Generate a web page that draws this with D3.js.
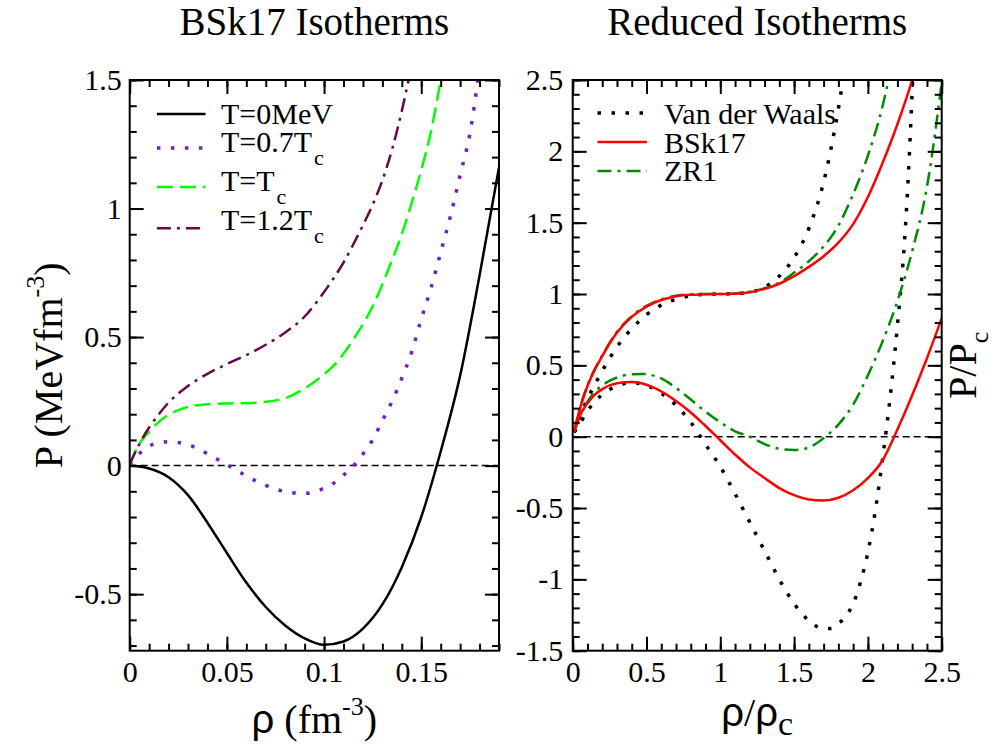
<!DOCTYPE html>
<html><head><meta charset="utf-8">
<script src="https://cdn.jsdelivr.net/npm/d3@7"></script>
<style>
html,body{margin:0;padding:0;background:#fff;}
svg text{font-family:"Liberation Serif","Times New Roman",serif;fill:#000;}
</style></head>
<body><svg id="chart" width="997" height="750"></svg>
<script>
// ---------- DATA ----------
// Left panel: BSk17 isotherms, P (MeV fm^-3) vs rho (fm^-3)
const rhoT0   = [0,0.01,0.02,0.03,0.04,0.05,0.06,0.07,0.08,0.09,0.1,0.11,0.12,0.13,0.14,0.15,0.16,0.17,0.18,0.19];
const pT0     = [0,-0.011,-0.045,-0.115,-0.222,-0.34,-0.455,-0.55,-0.622,-0.672,-0.697,-0.684,-0.634,-0.54,-0.395,-0.2,0.055,0.35,0.74,1.16];

const rho07   = [0,0.005,0.01,0.015,0.02,0.025,0.03,0.035,0.04,0.045,0.05,0.06,0.07,0.08,0.09,0.1,0.105,0.11,0.115,0.12,0.125,0.13,0.135,0.14,0.145,0.15,0.155,0.16,0.165,0.17,0.175,0.18];
const p07     = [0.005,0.047,0.076,0.089,0.093,0.09,0.082,0.066,0.046,0.025,0.004,-0.04,-0.077,-0.101,-0.108,-0.088,-0.068,-0.037,-0.002,0.045,0.1,0.175,0.25,0.34,0.44,0.57,0.69,0.83,0.97,1.13,1.29,1.55];

const rhoTc   = [0,0.005,0.01,0.015,0.02,0.025,0.03,0.04,0.05,0.06,0.07,0.08,0.09,0.1,0.105,0.11,0.115,0.12,0.125,0.13,0.135,0.14,0.145,0.15,0.155,0.16];
const pTc     = [0.005,0.085,0.132,0.17,0.198,0.216,0.228,0.239,0.242,0.243,0.248,0.262,0.3,0.355,0.39,0.435,0.49,0.55,0.62,0.705,0.8,0.9,1.02,1.15,1.3,1.5];

const rho12   = [0,0.005,0.01,0.015,0.02,0.025,0.03,0.035,0.04,0.05,0.06,0.07,0.08,0.09,0.1,0.105,0.11,0.115,0.12,0.125,0.13,0.135,0.14,0.1435];
const p12     = [0.005,0.085,0.148,0.2,0.245,0.28,0.31,0.335,0.357,0.395,0.43,0.47,0.518,0.58,0.675,0.73,0.79,0.86,0.935,1.015,1.11,1.23,1.38,1.5];

// Right panel: reduced isotherms, P/Pc vs rho/rhoc
const rVdWc   = [0.01,0.05,0.1,0.15,0.2,0.3,0.4,0.5,0.6,0.7,0.8,0.9,1.0,1.1,1.2,1.3,1.4,1.5,1.6,1.7,1.8,1.84];
const pVdWc   = [0.03,0.145,0.265,0.365,0.46,0.63,0.757,0.855,0.922,0.963,0.988,0.998,1.0,1.003,1.012,1.048,1.126,1.255,1.46,1.785,2.3,2.56];
const rVdWs   = [0.01,0.05,0.1,0.15,0.2,0.3,0.4,0.5,0.6,0.7,0.8,0.9,1.0,1.1,1.2,1.3,1.4,1.5,1.6,1.7,1.75,1.8,1.85,1.9,1.95,2.0,2.05,2.1,2.15,2.2,2.25,2.275,2.3,2.32];
const pVdWs   = [0.03,0.095,0.18,0.245,0.295,0.355,0.378,0.36,0.305,0.22,0.1,-0.055,-0.21,-0.4,-0.6,-0.8,-1.0,-1.17,-1.29,-1.345,-1.345,-1.31,-1.26,-1.17,-1.02,-0.81,-0.52,-0.15,0.27,0.78,1.4,1.85,2.42,2.9];

const rBSkc   = [0.01,0.05,0.1,0.15,0.2,0.3,0.4,0.5,0.6,0.7,0.8,0.9,1.0,1.1,1.2,1.3,1.4,1.5,1.6,1.7,1.8,1.9,2.0,2.1,2.2,2.3,2.35];
const pBSkc   = [0.04,0.2,0.355,0.47,0.565,0.73,0.84,0.912,0.958,0.985,0.995,0.998,1.0,1.002,1.012,1.036,1.072,1.125,1.19,1.265,1.36,1.49,1.68,1.92,2.19,2.5,2.68];
const rBSks   = [0.01,0.05,0.1,0.15,0.2,0.3,0.4,0.5,0.6,0.7,0.8,0.9,1.0,1.1,1.2,1.3,1.4,1.5,1.6,1.7,1.8,1.9,2.0,2.1,2.2,2.3,2.4,2.5];
const pBSks   = [0.035,0.15,0.235,0.295,0.333,0.374,0.383,0.364,0.318,0.25,0.17,0.075,-0.025,-0.125,-0.215,-0.29,-0.36,-0.41,-0.44,-0.448,-0.428,-0.375,-0.29,-0.165,0.05,0.29,0.55,0.83];

const rZRc    = [0.01,0.05,0.1,0.15,0.2,0.3,0.4,0.5,0.6,0.7,0.8,0.9,1.0,1.1,1.2,1.3,1.4,1.5,1.6,1.68,1.8,1.9,2.0,2.1,2.14];
const pZRc    = [0.04,0.205,0.36,0.475,0.57,0.735,0.845,0.917,0.962,0.988,0.997,1.0,1.0,1.004,1.016,1.04,1.08,1.15,1.23,1.31,1.48,1.7,1.97,2.32,2.5];
const rZRs    = [0.01,0.05,0.1,0.15,0.2,0.3,0.4,0.47,0.5,0.6,0.7,0.8,0.9,1.0,1.1,1.2,1.3,1.4,1.5,1.6,1.7,1.8,1.9,2.0,2.1,2.2,2.3,2.4,2.5];
const pZRs    = [0.035,0.15,0.245,0.315,0.36,0.415,0.437,0.44,0.438,0.408,0.342,0.26,0.175,0.1,0.038,0.0,-0.052,-0.085,-0.093,-0.075,-0.01,0.085,0.225,0.43,0.67,0.95,1.3,1.75,2.48];

// Axis ticks
const xMajL = [0,0.05,0.1,0.15], xLabL = ["0","0.05","0.1","0.15"];
const yMajL = [-0.5,0,0.5,1,1.5], yLabL = ["-0.5","0","0.5","1","1.5"];
const xMajR = [0,0.5,1,1.5,2,2.5], xLabR = ["0","0.5","1","1.5","2","2.5"];
const yMajR = [-1.5,-1,-0.5,0,0.5,1,1.5,2,2.5], yLabR = ["-1.5","-1","-0.5","0","0.5","1","1.5","2","2.5"];

// ---------- DRAW ----------
const svg = d3.select("#chart");
const PL = {x0:129.7, x1:499, y0:80, y1:650.7};
const PR = {x0:572.7, x1:941.7, y0:80, y1:650.7};
const xL = d3.scaleLinear([0,0.19],[PL.x0,PL.x1]);
const yL = d3.scaleLinear([-0.72,1.5],[PL.y1,PL.y0]);
const xR = d3.scaleLinear([0,2.5],[PR.x0,PR.x1]);
const yR = d3.scaleLinear([-1.5,2.5],[PR.y1,PR.y0]);

function range(a,b,s){const out=[];for(let v=a;v<=b+1e-9;v+=s)out.push(+v.toFixed(4));return out;}

function drawAxes(P,x,y,xMaj,xLab,xMin,yMaj,yLab,yMin,yPad){
  const g = svg.append("g");
  const fmt = (arr,lab)=> (d)=>{const i=arr.findIndex(v=>Math.abs(v-d)<1e-9);return i>=0?lab[i]:"";};
  const style = sel=>{sel.select(".domain").remove();sel.selectAll("line").attr("stroke","#000").attr("stroke-width",2);
    sel.selectAll("text").attr("font-size",30).attr("fill","#000").attr("font-family",'"Liberation Serif","Times New Roman",serif');};
  g.append("g").attr("transform",`translate(0,${P.y1})`).call(d3.axisBottom(x).tickValues(xMin).tickSize(-7).tickFormat("")).call(style);
  g.append("g").attr("transform",`translate(0,${P.y1})`).call(d3.axisBottom(x).tickValues(xMaj).tickSize(-14).tickPadding(10).tickFormat(fmt(xMaj,xLab))).call(style);
  g.append("g").attr("transform",`translate(0,${P.y0})`).call(d3.axisTop(x).tickValues(xMin).tickSize(-7).tickFormat("")).call(style);
  g.append("g").attr("transform",`translate(0,${P.y0})`).call(d3.axisTop(x).tickValues(xMaj).tickSize(-14).tickFormat("")).call(style);
  g.append("g").attr("transform",`translate(${P.x0},0)`).call(d3.axisLeft(y).tickValues(yMin).tickSize(-7).tickFormat("")).call(style);
  g.append("g").attr("transform",`translate(${P.x0},0)`).call(d3.axisLeft(y).tickValues(yMaj).tickSize(-14).tickPadding(yPad).tickFormat(fmt(yMaj,yLab))).call(style);
  g.append("g").attr("transform",`translate(${P.x1},0)`).call(d3.axisRight(y).tickValues(yMin).tickSize(-7).tickFormat("")).call(style);
  g.append("g").attr("transform",`translate(${P.x1},0)`).call(d3.axisRight(y).tickValues(yMaj).tickSize(-14).tickFormat("")).call(style);
  g.append("rect").attr("x",P.x0).attr("y",P.y0).attr("width",P.x1-P.x0).attr("height",P.y1-P.y0)
    .attr("fill","none").attr("stroke","#000").attr("stroke-width",2);
}

const defs = svg.append("defs");
defs.append("clipPath").attr("id","clipL").append("rect").attr("x",PL.x0).attr("y",PL.y0).attr("width",PL.x1-PL.x0).attr("height",PL.y1-PL.y0);
defs.append("clipPath").attr("id","clipR").append("rect").attr("x",PR.x0).attr("y",PR.y0).attr("width",PR.x1-PR.x0).attr("height",PR.y1-PR.y0);

function curve(clip,x,y,xs,ys,color,width,dash){
  const pts = xs.map((v,i)=>[v,ys[i]]);
  const line = d3.line().x(d=>x(d[0])).y(d=>y(d[1])).curve(d3.curveMonotoneX);
  svg.append("path").attr("clip-path",`url(#${clip})`).attr("d",line(pts))
    .attr("fill","none").attr("stroke",color).attr("stroke-width",width)
    .attr("stroke-dasharray",dash||null).attr("stroke-linecap","butt").attr("stroke-linejoin","round");
}

const COL = {black:"#000", indigo:"#7221bc", green:"#00ff00", maroon:"#670748", red:"#ff0000", green4:"#008b00"};
const DOT = "3.5,10.5", DASH = "16,7", DASHDOT = "14,6,3,6";

svg.append("line").attr("x1",PL.x0).attr("x2",PL.x1).attr("y1",yL(0)).attr("y2",yL(0)).attr("stroke","#000").attr("stroke-width",1.5).attr("stroke-dasharray","7,4");
svg.append("line").attr("x1",PR.x0).attr("x2",PR.x1).attr("y1",yR(0)).attr("y2",yR(0)).attr("stroke","#000").attr("stroke-width",1.5).attr("stroke-dasharray","7,4");

curve("clipL",xL,yL,rhoT0,pT0,COL.black,2.5,null);
curve("clipL",xL,yL,rho07,p07,COL.indigo,3.5,DOT);
curve("clipL",xL,yL,rhoTc,pTc,COL.green,2.5,DASH);
curve("clipL",xL,yL,rho12,p12,COL.maroon,2.5,DASHDOT);

curve("clipR",xR,yR,rVdWc,pVdWc,COL.black,3.5,DOT);
curve("clipR",xR,yR,rVdWs,pVdWs,COL.black,3.5,DOT);
curve("clipR",xR,yR,rZRc,pZRc,COL.green4,2.5,DASHDOT);
curve("clipR",xR,yR,rZRs,pZRs,COL.green4,2.5,DASHDOT);
curve("clipR",xR,yR,rBSkc,pBSkc,COL.red,2.5,null);
curve("clipR",xR,yR,rBSks,pBSks,COL.red,2.5,null);

drawAxes(PL,xL,yL,xMajL,xLabL,range(0,0.19,0.01),yMajL,yLabL,range(-0.7,1.5,0.1),8);
drawAxes(PR,xR,yR,xMajR,xLabR,range(0,2.5,0.1),yMajR,yLabR,range(-1.5,2.5,0.1),9.5);

svg.append("text").attr("x",(PL.x0+PL.x1)/2).attr("y",35).attr("text-anchor","middle").attr("font-size",39).text("BSk17 Isotherms");
svg.append("text").attr("x",(PR.x0+PR.x1)/2).attr("y",35).attr("text-anchor","middle").attr("font-size",39).text("Reduced Isotherms");

const sans = '"Liberation Sans","DejaVu Sans",sans-serif';
const xlabL = svg.append("text").attr("x",(PL.x0+PL.x1)/2).attr("y",733).attr("text-anchor","middle").attr("font-size",40);
xlabL.append("tspan").attr("font-family",sans).text("ρ");
xlabL.append("tspan").text(" (fm");
xlabL.append("tspan").attr("font-size",26).attr("dy",-18).text("-3");
xlabL.append("tspan").attr("dy",18).text(")");

const xlabR = svg.append("text").attr("x",(PR.x0+PR.x1)/2).attr("y",726).attr("text-anchor","middle").attr("font-size",40);
xlabR.append("tspan").attr("font-family",sans).text("ρ");
xlabR.append("tspan").text("/");
xlabR.append("tspan").attr("font-family",sans).text("ρ");
xlabR.append("tspan").attr("font-size",34).attr("dy",9).text("c");

const ylabL = svg.append("text").attr("transform",`translate(62,${(PL.y0+PL.y1)/2}) rotate(-90)`).attr("text-anchor","middle").attr("font-size",40);
ylabL.append("tspan").text("P (MeVfm");
ylabL.append("tspan").attr("font-size",26).attr("dy",-18).text("-3");
ylabL.append("tspan").attr("dy",18).text(")");

const ylabR = svg.append("text").attr("transform",`translate(976,${(PR.y0+PR.y1)/2}) rotate(-90)`).attr("text-anchor","middle").attr("font-size",40);
ylabR.append("tspan").text("P/P");
ylabR.append("tspan").attr("font-size",26).attr("dy",12).text("c");

const legL = [
  {main:"T=0MeV", sub:"", color:COL.black, w:2.5, dash:null, my:113.9, ty:124},
  {main:"T=0.7T", sub:"c", color:COL.indigo, w:3.5, dash:DOT, my:148, ty:152},
  {main:"T=T", sub:"c", color:COL.green, w:2.5, dash:DASH, my:187, ty:191.4},
  {main:"T=1.2T", sub:"c", color:COL.maroon, w:2.5, dash:DASHDOT, my:228.3, ty:230.1}
];
const legR = [
  {main:"Van der Waals", sub:"", color:COL.black, w:3.5, dash:DOT, my:113, ty:124.3},
  {main:"BSk17", sub:"", color:COL.red, w:2.5, dash:null, my:142, ty:152.7},
  {main:"ZR1", sub:"", color:COL.green4, w:2.5, dash:DASHDOT, my:171, ty:181.4}
];
function legend(items,lx0,lx1,tx){
  items.forEach(it=>{
    svg.append("line").attr("x1",lx0).attr("x2",lx1).attr("y1",it.my).attr("y2",it.my)
      .attr("stroke",it.color).attr("stroke-width",it.w).attr("stroke-dasharray",it.dash);
    const t = svg.append("text").attr("x",tx).attr("y",it.ty).attr("font-size",30);
    t.append("tspan").text(it.main);
    if(it.sub) t.append("tspan").attr("font-size",22).attr("dy",12.5).attr("dx",2).text(it.sub);
  });
}
legend(legL,156.9,205.5,221);
legend(legR,597.5,646.9,664);
</script></body></html>
